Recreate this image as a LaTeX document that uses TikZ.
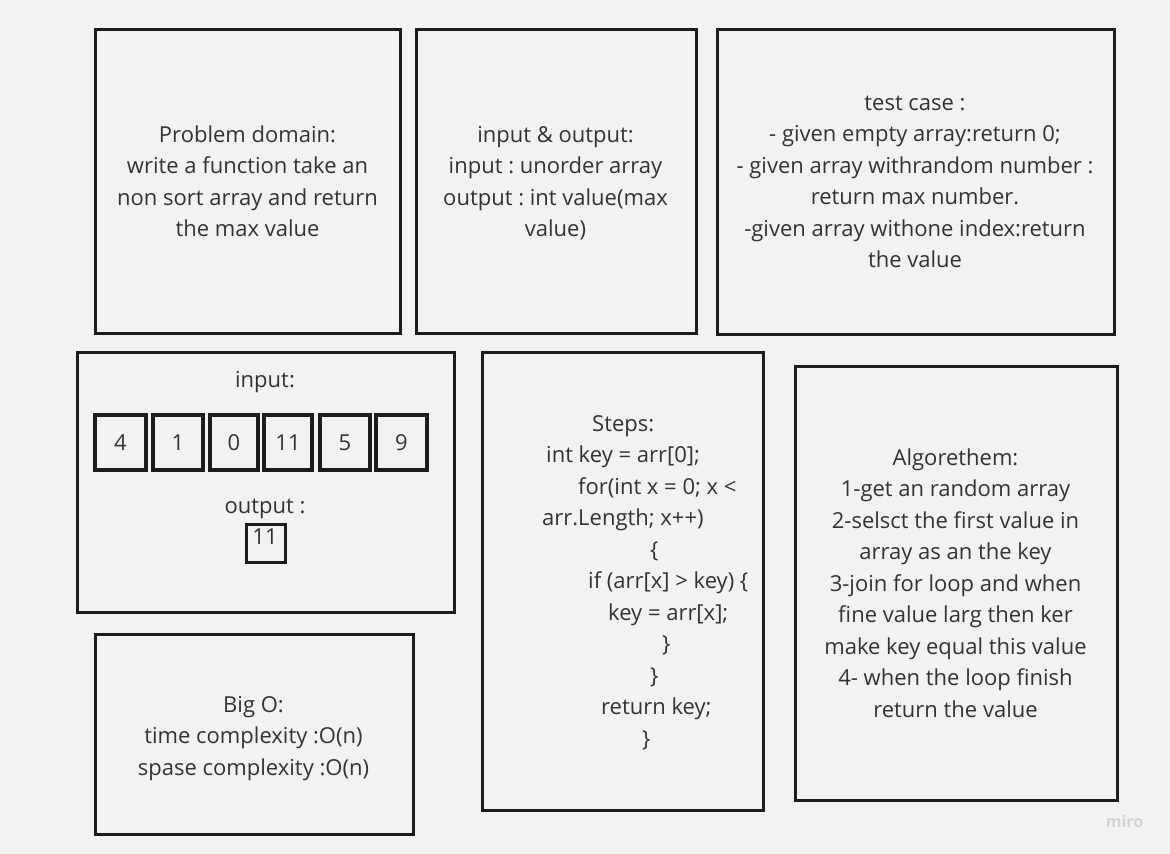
\documentclass[tikz,border=0pt]{standalone}
\usepackage{fontspec}
\setmainfont{Open Sans}
\frenchspacing
\definecolor{bg}{HTML}{F2F2F2}
\definecolor{ink}{HTML}{1C1C1C}
\definecolor{txt}{HTML}{333333}
\definecolor{logo}{HTML}{D2D2D2}
\begin{document}
\begin{tikzpicture}[x=1pt,y=-1pt,
  card/.style={draw=ink, line width=3pt, fill=bg, inner sep=0pt},
  cellbox/.style={draw=ink, line width=4pt, inner sep=0pt, minimum height=55pt, text=txt, font=\fontsize{22}{31.5}\selectfont},
  lbl/.style={text=txt, font=\fontsize{22}{31.5}\selectfont, inner sep=0pt, anchor=base},
  code/.style={text=txt, font=\fontsize{22}{31.5}\selectfont, inner sep=0pt, anchor=base west}]
\fill[bg] (0,0) rectangle (1170,854);
\useasboundingbox (0,0) rectangle (1170,854);

% cards
\node[card, minimum width=305pt, minimum height=304pt] (pd) at (247.5,181) {};
\node[card, minimum width=280pt, minimum height=304pt] (io) at (556,181) {};
\node[card, minimum width=397pt, minimum height=305pt] (tc) at (915.5,181.5) {};
\node[card, minimum width=377pt, minimum height=260pt] (inp) at (265.5,482) {};
\node[card, minimum width=281pt, minimum height=458pt] (st) at (622.5,581) {};
\node[card, minimum width=322pt, minimum height=434pt] (al) at (956,583) {};
\node[card, minimum width=318pt, minimum height=200pt] (bo) at (254,734) {};

% problem domain
\foreach \t [count=\i from 0] in {Problem domain:, write a function take an, non sort array and return, the max value}
  \node[lbl] (pd\i) at (247.5,142+31.5*\i) {\t};

% input & output
\foreach \t [count=\i from 0] in {input \& output:, input : unorder array, output : int value(max, value)}
  \node[lbl] (io\i) at (555.5,142+31.5*\i) {\t};

% test case
\foreach \t [count=\i from 0] in {test case :, - given empty array:return 0;, - given array withrandom number :, return max number., -given array withone index:return, the value}
  \node[lbl] (tc\i) at (915,110+31.5*\i) {\t};

% input / output panel
\node[lbl] (inlbl) at (265,387) {input:};
\node[cellbox, minimum width=51pt] (c1) at (120.5,442.5) {4};
\node[cellbox, minimum width=50pt] (c2) at (178,442.5) {1};
\node[cellbox, minimum width=48pt] (c3) at (234,442.5) {0};
\node[cellbox, minimum width=48pt] (c4) at (288,442.5) {11};
\node[cellbox, minimum width=50pt] (c5) at (345,442.5) {5};
\node[cellbox, minimum width=51pt] (c6) at (401.5,442.5) {9};
\node[lbl] (outlbl) at (265,513) {output :};
\node[draw=ink, line width=3.3pt, minimum width=39pt, minimum height=38pt, inner sep=0pt] (ob) at (266,543.5) {};
\node[lbl] (obt) at (265,544) {11};

% steps
\node[code] (s0) at (592,431) {Steps:};
\node[code] (s1) at (546,462.5) {int key = arr[0];};
\node[code] (s2) at (578,494) {for(int x = 0; x <};
\node[code] (s3) at (542,525.5) {arr.Length; x++)};
\node[code] (s4) at (650,557) {\{};
\node[code] (s5) at (588,588.5) {if (arr[x] > key) \{};
\node[code] (s6) at (608,620) {key = arr[x];};
\node[code] (s7) at (662,651.5) {\}};
\node[code] (s8) at (650,683) {\}};
\node[code] (s9) at (601,714.5) {return key;};
\node[code] (s10) at (642,746) {\}};

% algorithm
\foreach \t [count=\i from 0] in {Algorethem:, 1-get an random array, 2-selsct the first value in, array as an the key, 3-join for loop and when, fine value larg then ker, make key equal this value, 4- when the loop finish, return the value}
  \node[lbl] (al\i) at (955.5,465+31.5*\i) {\t};

% big O
\foreach \t [count=\i from 0] in {Big O:, time complexity :O(n), spase complexity :O(n)}
  \node[lbl] (bo\i) at (253.5,712+31.5*\i) {\t};

% logo
\node[text=logo, font=\fontsize{16}{16}\selectfont\bfseries, inner sep=0pt, anchor=base] (miro) at (1124.5,827) {miro};
\end{tikzpicture}
\end{document}
